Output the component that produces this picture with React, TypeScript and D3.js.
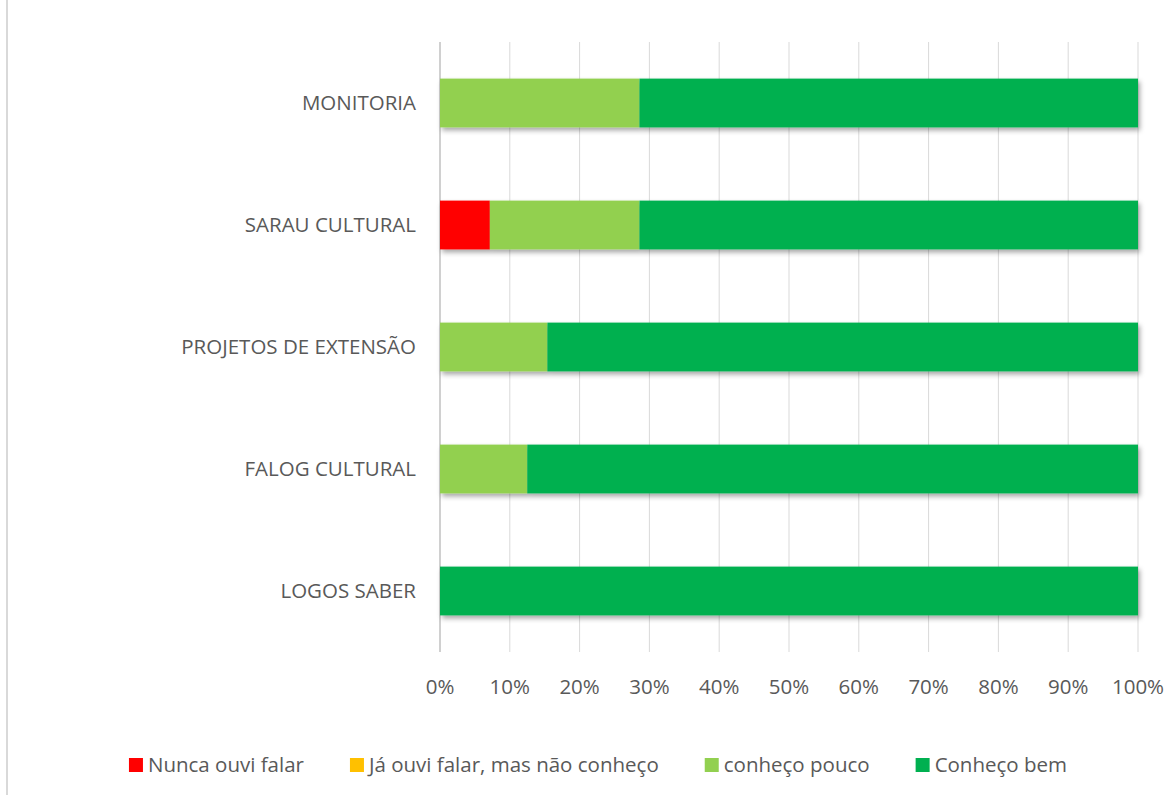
import React, { useEffect, useRef } from "react";
import * as d3 from "d3";

const categories = [
  "MONITORIA",
  "SARAU CULTURAL",
  "PROJETOS DE EXTENSÃO",
  "FALOG CULTURAL",
  "LOGOS SABER",
];

const seriesNames = [
  "Nunca ouvi falar",
  "Já ouvi falar, mas não conheço",
  "conheço pouco",
  "Conheço bem",
];

const seriesColors = ["#FF0000", "#FFC000", "#92D050", "#00B050"];

// percentages per category, order follows seriesNames
const nuncaOuvi = [0, 7.14, 0, 0, 0];
const jaOuvi = [0, 0, 0, 0, 0];
const conhecoPouco = [28.57, 21.43, 15.38, 12.5, 0];
const conhecoBem = [71.43, 71.43, 84.62, 87.5, 100];

const ticks = [0, 0.1, 0.2, 0.3, 0.4, 0.5, 0.6, 0.7, 0.8, 0.9, 1];

const FONT = "'Open Sans', sans-serif";
const FS = "20.5px";
const TEXT = "#595959";

const App: React.FC = () => {
  const svgRef = useRef<SVGSVGElement>(null);

  useEffect(() => {
    const width = 1168;
    const height = 795;
    const margin = { top: 42, right: 30, bottom: 143, left: 440 };

    const svg = d3.select(svgRef.current).attr("width", width).attr("height", height);
    svg.selectAll("*").remove();

    const defs = svg.append("defs");
    const filter = defs
      .append("filter")
      .attr("id", "shadow")
      .attr("x", "-5%")
      .attr("y", "-20%")
      .attr("width", "110%")
      .attr("height", "150%");
    filter
      .append("feDropShadow")
      .attr("dx", 2)
      .attr("dy", 3)
      .attr("stdDeviation", 2.5)
      .attr("flood-color", "#000")
      .attr("flood-opacity", 0.35);

    // chart border (left edge visible)
    svg
      .append("line")
      .attr("x1", 7)
      .attr("x2", 7)
      .attr("y1", 0)
      .attr("y2", height)
      .attr("stroke", "#d9d9d9")
      .attr("stroke-width", 2);

    const x = d3
      .scaleLinear()
      .domain([0, 1])
      .range([margin.left, width - margin.right]);

    const y = d3
      .scaleBand()
      .domain(categories)
      .range([margin.top, height - margin.bottom])
      .paddingInner(0.6)
      .paddingOuter(0.3);

    const g = svg.append("g");

    // gridlines
    g.selectAll("line.grid")
      .data(ticks)
      .enter()
      .append("line")
      .attr("class", "grid")
      .attr("x1", (d) => x(d))
      .attr("x2", (d) => x(d))
      .attr("y1", margin.top)
      .attr("y2", height - margin.bottom)
      .attr("stroke", (d) => (d === 0 ? "#d0d0d0" : "#d9d9d9"))
      .attr("stroke-width", (d) => (d === 0 ? 2 : 1));

    // tick labels
    g.selectAll("text.tick")
      .data(ticks)
      .enter()
      .append("text")
      .attr("class", "tick")
      .attr("x", (d) => x(d))
      .attr("y", height - margin.bottom + 35)
      .attr("dy", "0.35em")
      .attr("text-anchor", "middle")
      .style("font-family", FONT)
      .style("font-size", FS)
      .style("fill", TEXT)
      .text((d) => d3.format(".0%")(d));

    // category labels
    g.selectAll("text.cat")
      .data(categories)
      .enter()
      .append("text")
      .attr("class", "cat")
      .attr("x", margin.left - 24)
      .attr("y", (d) => (y(d) as number) + y.bandwidth() / 2)
      .attr("dy", "0.35em")
      .attr("text-anchor", "end")
      .style("font-family", FONT)
      .style("font-size", FS)
      .style("fill", TEXT)
      .text((d) => d);

    // stacked bars
    const rows = categories.map((c, i) => ({
      cat: c,
      values: [nuncaOuvi[i], jaOuvi[i], conhecoPouco[i], conhecoBem[i]],
    }));

    rows.forEach((r) => {
      const total = d3.sum(r.values);
      const bar = g.append("g").attr("filter", "url(#shadow)");
      let acc = 0;
      r.values.forEach((v, k) => {
        if (v <= 0) return;
        const x0 = acc / total;
        acc += v;
        const x1 = acc / total;
        bar
          .append("rect")
          .attr("x", x(x0))
          .attr("width", x(x1) - x(x0))
          .attr("y", y(r.cat) as number)
          .attr("height", y.bandwidth())
          .attr("fill", seriesColors[k]);
      });
    });

    // legend
    const legend = svg.append("g");
    const items = legend
      .selectAll("g")
      .data(seriesNames)
      .enter()
      .append("g");
    items
      .append("rect")
      .attr("width", 14)
      .attr("height", 14)
      .attr("y", -7)
      .attr("fill", (_, i) => seriesColors[i]);
    items
      .append("text")
      .attr("x", 19)
      .attr("dy", "0.35em")
      .style("font-family", FONT)
      .style("font-size", FS)
      .style("fill", TEXT)
      .text((d) => d);

    const gap = 46;
    const widths: number[] = [];
    items.each(function () {
      const t = (this as SVGGElement).querySelector("text") as SVGTextElement;
      widths.push(19 + t.getComputedTextLength());
    });
    const totalW = d3.sum(widths) + gap * (widths.length - 1);
    let lx = 598 - totalW / 2;
    items.each(function (_, i) {
      d3.select(this).attr("transform", `translate(${lx},765)`);
      lx += widths[i] + gap;
    });
  }, []);

  return (
    <svg
      ref={svgRef}
      style={{ position: "absolute", left: 0, top: 0, background: "#fff" }}
    />
  );
};

export default App;
